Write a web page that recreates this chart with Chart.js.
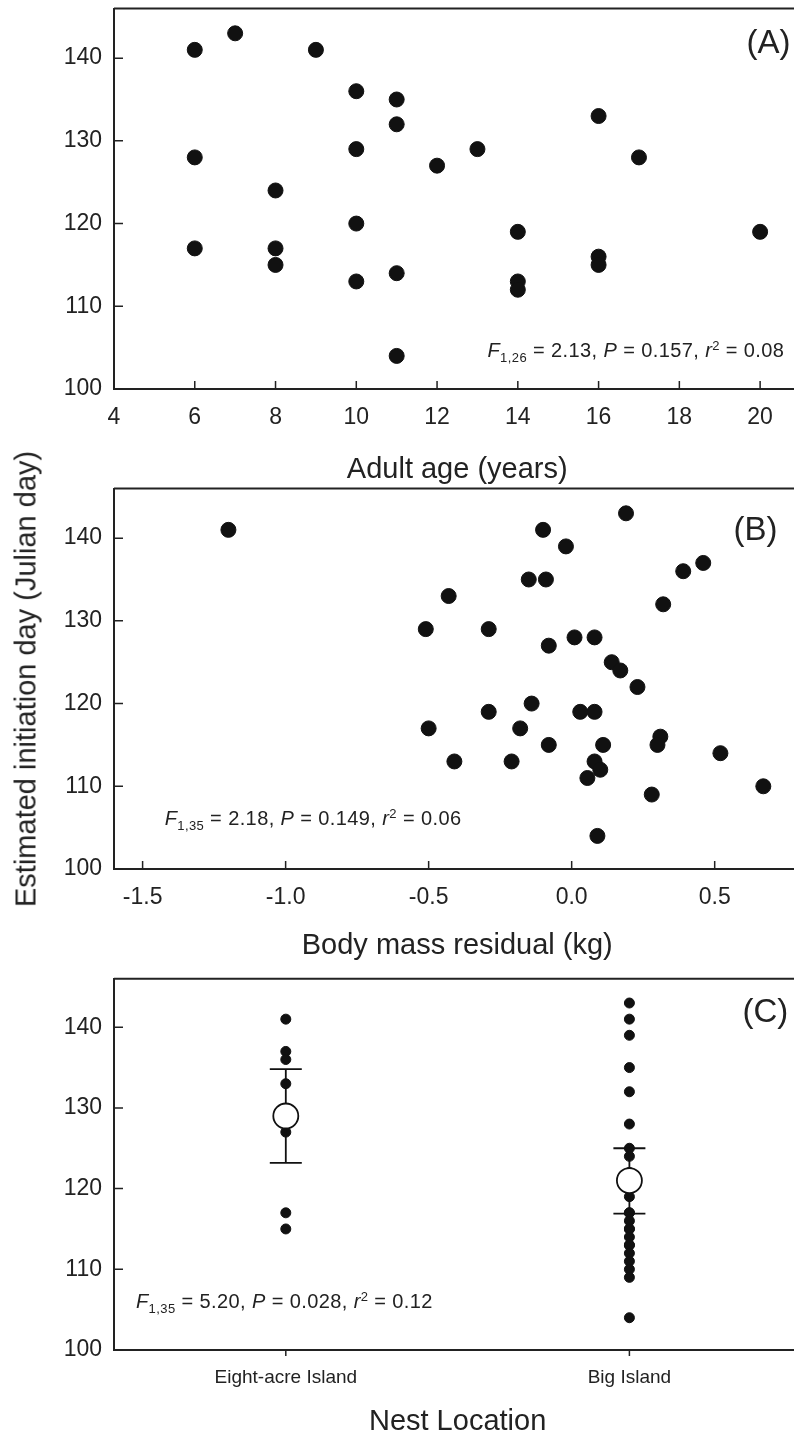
<!DOCTYPE html>
<html>
  <head>
    <style>
html, body {
  margin: 0;
  background: #fff;
  overflow: hidden;
}
body {
  position: relative;
  width: 794px;
  height: 1435px;
  font-family: "Liberation Sans", Arial, sans-serif;
}
canvas {
  position: absolute;
  left: 0;
}
#panel-a { top: 0px; }
#panel-b { top: 480px; }
#panel-c { top: 961px; }
#ytitle {
  position: absolute;
  left: 26px;
  top: 679px;
  transform: translate(-50%, -50%) rotate(-90deg);
  white-space: nowrap;
  font-size: 29px;
  line-height: 1;
  color: #222;
}
    </style>
  </head>
  <body>
    <canvas id="panel-a" width="809" height="490"></canvas>
    <canvas id="panel-b" width="809" height="490"></canvas>
    <canvas id="panel-c" width="819" height="490"></canvas>
    <div id="ytitle">Estimated initiation day (Julian day)</div>
    <script src="https://cdn.jsdelivr.net/npm/chart.js"></script>
    <script>

// (A) adult age vs initiation day
const ageYears = [6, 6, 6, 7, 8, 8, 8, 9, 10, 10, 10, 10, 11, 11, 11, 11, 12, 13, 14, 14, 14, 16, 16, 16, 17, 20]
const ageDay = [141, 128, 117, 143, 124, 117, 115, 141, 136, 129, 120, 113, 135, 132, 114, 104, 127, 129, 119, 113, 112, 133, 116, 115, 128, 119]

// (B) body mass residual vs initiation day
const massResidual = [-1.20, -0.10, 0.19, -0.02, 0.46, 0.39, -0.15, -0.09, -0.43, 0.32,
  -0.51, -0.29, 0.01, 0.08, -0.08, 0.14, 0.17, 0.23, -0.14, -0.29,
  0.03, 0.08, -0.50, -0.18, 0.31, 0.30, -0.08, 0.11, 0.52, -0.41,
  -0.21, 0.08, 0.10, 0.055, 0.28, 0.67, 0.09]
const massDay = [141, 141, 143, 139, 137, 136, 135, 135, 133, 132,
  129, 129, 128, 128, 127, 125, 124, 122, 120, 119,
  119, 119, 117, 117, 116, 115, 115, 115, 114, 113,
  113, 113, 112, 111, 109, 110, 104]

// (C) nest location
const locations = ['Eight-acre Island', 'Big Island']
const eightAcreDay = [141, 137, 136, 133, 127, 117, 115]
const bigIslandDay = [143, 141, 139, 135, 132, 128, 125, 124, 122, 120, 119, 117, 117, 116, 115, 115, 114, 113, 113, 112, 111, 110, 109, 104]
const locationMean = [129, 121]
const locationLow = [123.2, 116.9]
const locationHigh = [134.8, 125.0]

const dayTicks = [100, 110, 120, 130, 140]
const INK = '#222'
const DOT = '#111'

Chart.defaults.font.family = '"Liberation Sans", Arial, sans-serif'
Chart.defaults.color = INK
Chart.defaults.plugins.legend.display = false
Chart.defaults.plugins.tooltip.enabled = false
Chart.defaults.animation = false

// inward ticks, top frame line, panel letter and stats note
const panelDecor = {
  id: 'panelDecor',
  afterDraw(chart, args, opts) {
    const {ctx, chartArea: area, scales: {x, y}} = chart
    ctx.save()
    ctx.strokeStyle = INK
    ctx.lineWidth = 2
    ctx.beginPath()
    ctx.moveTo(area.left, area.top)
    ctx.lineTo(area.right, area.top)
    ctx.stroke()

    ctx.lineWidth = 1.5
    ctx.beginPath()
    y.ticks.forEach((t, i) => {
      const py = y.getPixelForTick(i)
      ctx.moveTo(area.left, py)
      ctx.lineTo(area.left + 9, py)
    })
    x.ticks.forEach((t, i) => {
      const px = x.getPixelForTick(i)
      ctx.moveTo(px, area.bottom)
      ctx.lineTo(px, area.bottom + opts.xTick)
    })
    ctx.stroke()

    ctx.fillStyle = INK
    ctx.textBaseline = 'alphabetic'
    ctx.font = '33px "Liberation Sans", Arial, sans-serif'
    ctx.textAlign = 'right'
    ctx.fillText(opts.label, area.right - opts.labelRight, area.top + opts.labelDown)

    drawNote(ctx, opts.note, x.getPixelForValue(opts.noteAt[0]), y.getPixelForValue(opts.noteAt[1]), opts.noteAlign)
    ctx.restore()
  }
}

function noteParts(df, f, p, r2) {
  return [
    {t: 'F', it: true},
    {t: df, sub: true},
    {t: ' = ' + f + ', '},
    {t: 'P', it: true},
    {t: ' = ' + p + ', '},
    {t: 'r', it: true},
    {t: '2', sup: true},
    {t: ' = ' + r2}
  ]
}

function partFont(p) {
  const size = (p.sub || p.sup) ? 13 : 20
  return (p.it ? 'italic ' : '') + size + 'px "Liberation Sans", Arial, sans-serif'
}

function drawNote(ctx, parts, x, y, align) {
  ctx.textAlign = 'left'
  ctx.letterSpacing = '0.4px'
  let total = 0
  parts.forEach(p => {
    ctx.font = partFont(p)
    total += ctx.measureText(p.t).width
  })
  let cx = align === 'right' ? x - total : x
  parts.forEach(p => {
    ctx.font = partFont(p)
    const dy = p.sub ? 5 : (p.sup ? -7 : 0)
    ctx.fillText(p.t, cx, y + dy)
    cx += ctx.measureText(p.t).width
  })
}

function yScale() {
  return {
    min: 100,
    max: 146,
    afterBuildTicks: s => { s.ticks = dayTicks.map(v => ({value: v})) },
    ticks: {font: {size: 23}, color: INK, padding: 12},
    grid: {drawOnChartArea: false, drawTicks: false},
    border: {color: INK, width: 2},
    afterFit: s => {
      s.width = 114
      s.paddingTop = 0
      s.paddingBottom = 0
    }
  }
}

function xScale(extra, title, titlePad, labelSize, labelPad) {
  return Object.assign({
    ticks: {font: {size: labelSize}, color: INK, padding: labelPad, maxRotation: 0, autoSkip: false},
    grid: {drawOnChartArea: false, drawTicks: false},
    border: {color: INK, width: 2},
    title: {display: true, text: title, font: {size: 29}, color: INK, padding: {top: 0, bottom: titlePad}},
    afterFit: s => {
      s.height = 101
      s.paddingLeft = 0
      s.paddingRight = 0
    }
  }, extra)
}

function dotSet(xs, ys, r) {
  return {
    data: xs.map((v, i) => ({x: v, y: ys[i]})),
    pointRadius: r,
    pointBorderWidth: 1,
    backgroundColor: DOT,
    borderColor: DOT
  }
}

const baseOptions = {
  responsive: false,
  layout: {padding: {top: 8, left: 0, right: 0, bottom: 0}}
}

// panel A
new Chart(document.getElementById('panel-a'), {
  type: 'scatter',
  data: {datasets: [dotSet(ageYears, ageDay, 7.5)]},
  options: Object.assign({}, baseOptions, {
    scales: {
      x: xScale({type: 'linear', min: 4, max: 21, ticks: {font: {size: 23}, color: INK, padding: 15, stepSize: 2, includeBounds: false}},
        'Adult age (years)', 3, 23, 15),
      y: yScale()
    },
    plugins: {
      panelDecor: {
        xTick: -8, label: '(A)', labelRight: 10, labelDown: 44,
        note: noteParts('1,26', '2.13', '0.157', '0.08'), noteAt: [20.6, 103.9], noteAlign: 'right'
      }
    }
  }),
  plugins: [panelDecor]
})

// panel B
new Chart(document.getElementById('panel-b'), {
  type: 'scatter',
  data: {datasets: [dotSet(massResidual, massDay, 7.5)]},
  options: Object.assign({}, baseOptions, {
    scales: {
      x: xScale({type: 'linear', min: -1.6, max: 0.8, ticks: {font: {size: 23}, color: INK, padding: 15, stepSize: 0.5, includeBounds: false,
        callback: v => v.toFixed(1)}},
        'Body mass residual (kg)', 7, 23, 15),
      y: yScale()
    },
    plugins: {
      panelDecor: {
        xTick: -8, label: '(B)', labelRight: 23, labelDown: 51,
        note: noteParts('1,35', '2.18', '0.149', '0.06'), noteAt: [-1.423, 105.3], noteAlign: 'left'
      }
    }
  }),
  plugins: [panelDecor]
})

// panel C
const errorSets = locations.map((loc, i) => ({
  data: [{x: loc, y: locationLow[i]}, {x: loc, y: locationHigh[i]}],
  showLine: true,
  borderColor: DOT,
  borderWidth: 1.8,
  pointStyle: 'line',
  pointRadius: 16,
  pointBorderWidth: 1.8,
  pointBorderColor: DOT
}))

new Chart(document.getElementById('panel-c'), {
  type: 'scatter',
  data: {
    labels: locations,
    datasets: [
      {
        data: locations.map((loc, i) => ({x: loc, y: locationMean[i]})),
        pointRadius: 12.5,
        pointBorderWidth: 1.8,
        backgroundColor: '#fff',
        borderColor: DOT
      },
      ...errorSets,
      dotSet(eightAcreDay.map(() => locations[0]), eightAcreDay, 5),
      dotSet(bigIslandDay.map(() => locations[1]), bigIslandDay, 5)
    ]
  },
  options: Object.assign({}, baseOptions, {
    scales: {
      x: xScale({type: 'category', labels: locations, offset: true}, 'Nest Location', 12, 19, 16),
      y: yScale()
    },
    plugins: {
      panelDecor: {
        xTick: 6, label: '(C)', labelRight: 13, labelDown: 43,
        note: noteParts('1,35', '5.20', '0.028', '0.12'), noteAt: [-0.436, 105.2], noteAlign: 'left'
      }
    }
  }),
  plugins: [panelDecor]
})
    </script>
  </body>
</html>
